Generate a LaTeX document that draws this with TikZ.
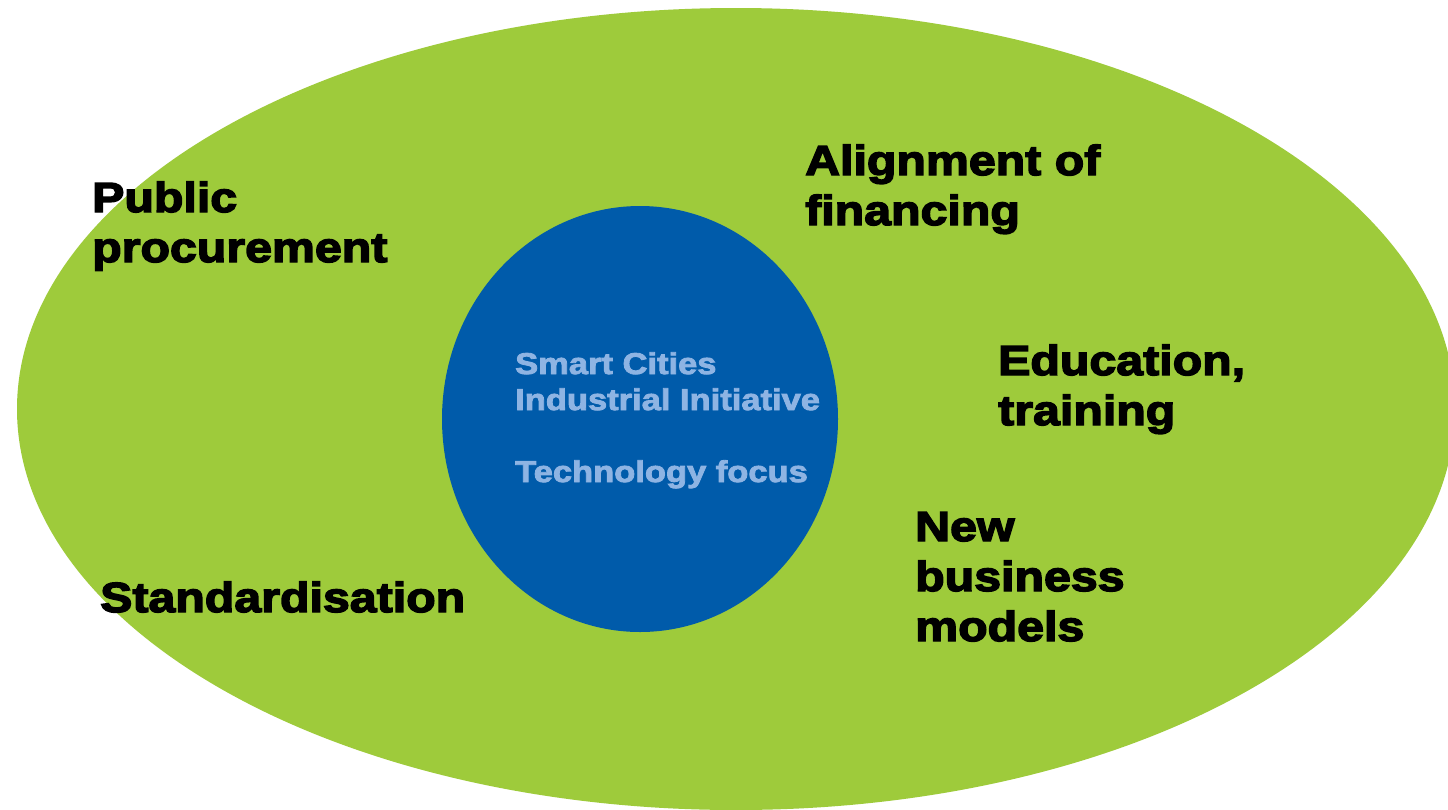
\documentclass[tikz,border=0pt]{standalone}
\usepackage{fontspec}
\newfontfamily\blk{Liberation Sans Bold}[FakeBold=3.5,FakeStretch=1.15]
\newfontfamily\blkin{Liberation Sans Bold}[FakeBold=2.8,FakeStretch=1.15]
\definecolor{leaf}{HTML}{9ECB3B}
\definecolor{core}{HTML}{005BAA}
\definecolor{corelbl}{HTML}{8EB4E3}
\begin{document}
\begin{tikzpicture}[x=1pt,y=-1pt,
  outerlbl/.style={anchor=base west,align=left,inner sep=0pt,text=black,
    font=\blk\fontsize{42}{50}\selectfont},
  innerlbl/.style={anchor=base west,align=left,inner sep=0pt,text=corelbl,
    font=\blkin\fontsize{30}{36}\selectfont}]
\useasboundingbox (0,0) rectangle (1448,809);
\clip (0,0) rectangle (1448,809);
\fill[white] (0,0) rectangle (1448,809);
\fill[leaf] (736,409) ellipse [x radius=719, y radius=401];
\fill[core] (640,419) ellipse [x radius=198, y radius=213];
\node[outerlbl] (pub) at (92,262) {Public\\procurement};
\node[outerlbl] (fin) at (805,225) {Alignment of\\financing};
\node[outerlbl] (edu) at (998,425) {Education,\\training};
\node[outerlbl] (biz) at (915,641) {New\\business\\models};
\node[outerlbl] (std) at (100,612) {Standardisation};
\node[innerlbl] (sci) at (515,482) {Smart Cities\\Industrial Initiative\\[36pt]Technology focus};
\end{tikzpicture}
\end{document}
